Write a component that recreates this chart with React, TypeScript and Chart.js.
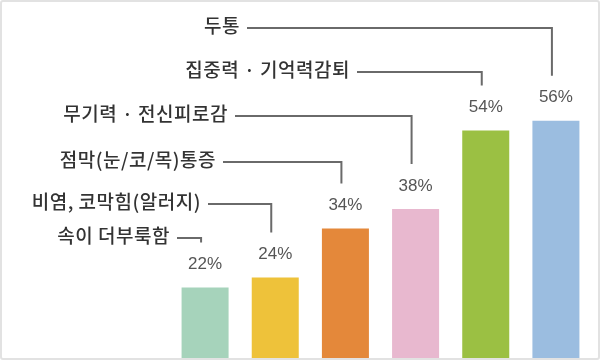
import React, { useEffect, useRef } from "react";
import { Chart, registerables } from "chart.js";

Chart.register(...registerables);

const categories = ["속이 더부룩함", "비염, 코막힘(알러지)", "점막(눈/코/목)통증", "무기력 · 전신피로감", "집중력 · 기억력감퇴", "두통"];
const values = [22, 24, 34, 38, 54, 56];
const valueLabels = ["22%", "24%", "34%", "38%", "54%", "56%"];
const barColors = ["#a6d3bb", "#eec23a", "#e4883a", "#e8b8cf", "#9bc043", "#9bbde0"];

// annotation layout for callout rows (label row y, connector left end x)
const rowY = [238, 204, 162, 116, 72, 28];
const lineStartX = [177, 208, 223, 235, 357, 247];

const calloutPlugin = {
  id: "callouts",
  afterDatasetsDraw(chart: any) {
    const ctx = chart.ctx;
    const meta = chart.getDatasetMeta(0);
    ctx.save();
    meta.data.forEach((bar: any, i: number) => {
      const x = bar.x;
      const y = bar.y;
      // value label
      ctx.fillStyle = "#555555";
      (ctx as any).letterSpacing = "0px";
      ctx.font = "17px 'Liberation Sans', Arial, sans-serif";
      ctx.textAlign = "center";
      ctx.textBaseline = "middle";
      ctx.fillText(valueLabels[i], x, y - 23);
      // connector
      const vx = x - 4;
      ctx.strokeStyle = "#6a6a6a";
      ctx.lineWidth = 2;
      ctx.beginPath();
      ctx.moveTo(lineStartX[i], rowY[i]);
      ctx.lineTo(vx, rowY[i]);
      ctx.lineTo(vx, y - 45);
      ctx.stroke();
      // category label
      ctx.fillStyle = "#333333";
      ctx.font = "500 19px 'Noto Sans CJK KR', 'Noto Sans', sans-serif";
      (ctx as any).letterSpacing = "0.5px";
      ctx.textAlign = "right";
      ctx.textBaseline = "middle";
      ctx.fillText(categories[i], lineStartX[i] - 7, rowY[i] - 2);
    });
    ctx.restore();
  },
};

export default function App() {
  const canvasRef = useRef<HTMLCanvasElement | null>(null);

  useEffect(() => {
    if (!canvasRef.current) return;
    const chart = new Chart(canvasRef.current, {
      type: "bar",
      data: {
        labels: categories,
        datasets: [
          {
            data: values,
            backgroundColor: barColors,
            borderWidth: 0,
            barPercentage: 1,
            categoryPercentage: 0.67,
          },
        ],
      },
      options: {
        animation: false,
        responsive: false,
        maintainAspectRatio: false,
        layout: { padding: { left: 170, right: 9, top: 10, bottom: 2 } },
        plugins: { legend: { display: false }, tooltip: { enabled: false } },
        scales: {
          x: { display: false, grid: { display: false } },
          y: { display: false, min: 7.6, max: 78.6, grid: { display: false } },
        },
      },
      plugins: [calloutPlugin],
    });
    return () => chart.destroy();
  }, []);

  return (
    <div style={{ position: "fixed", left: 0, top: 0, width: 600, height: 360, background: "#ffffff" }}>
      <canvas ref={canvasRef} width={600} height={360} style={{ position: "absolute", left: 0, top: 0, width: 600, height: 360 }} />
      <div
        style={{
          position: "absolute",
          left: 0,
          top: 0,
          width: 600,
          height: 360,
          boxSizing: "border-box",
          border: "2px solid #e2e2e2",
          borderRadius: 3,
          pointerEvents: "none",
        }}
      />
    </div>
  );
}
